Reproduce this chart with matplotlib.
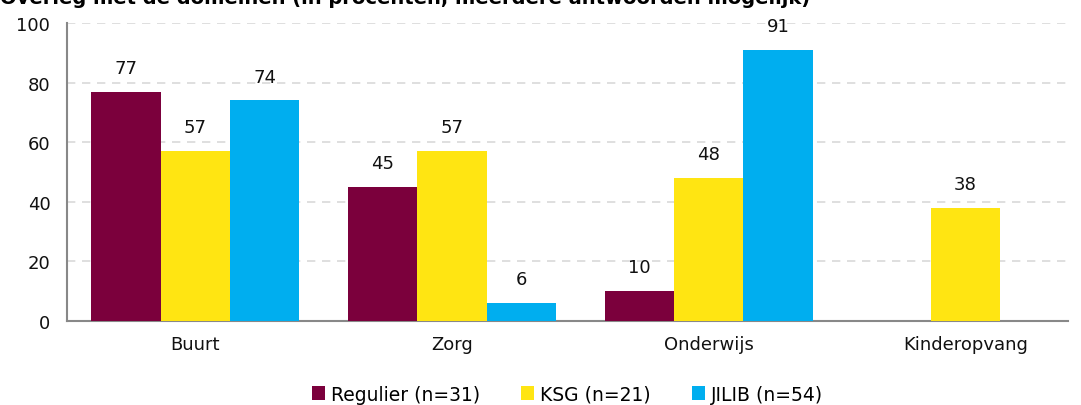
import matplotlib.pyplot as plt
import numpy as np

categories = ["Buurt", "Zorg", "Onderwijs", "Kinderopvang"]
regulier = [77, 45, 10, 0]
ksg = [57, 57, 48, 38]
jilib = [74, 6, 91, 0]
series_names = ["Regulier (n=31)", "KSG (n=21)", "JILIB (n=54)"]
colors = ["#7B003C", "#FFE512", "#00AEEF"]

fig = plt.figure(figsize=(10.81, 4.06), dpi=100)
ax = fig.add_axes([67 / 1081, 84 / 406, 1001 / 1081, 298 / 406])

x = np.arange(len(categories))
w = 0.27
for i, (vals, name, c) in enumerate(zip([regulier, ksg, jilib], series_names, colors)):
    pos = x + (i - 1) * w
    bars = ax.bar(pos, vals, width=w, color=c, label=name, zorder=3)
    for b, v in zip(bars, vals):
        if v > 0:
            ax.text(b.get_x() + b.get_width() / 2, v + 5, str(v),
                    ha="center", va="bottom", fontsize=13, color="#111111")

ax.set_xlim(-0.5, 3.4)
ax.set_ylim(0, 100)
ax.set_yticks(range(0, 101, 20))
ax.set_xticks(x)
ax.set_xticklabels(categories)
ax.tick_params(axis="both", length=0, labelsize=13, colors="#111111")
ax.tick_params(axis="x", pad=10)
ax.tick_params(axis="y", pad=12)

for yv in range(20, 101, 20):
    ax.axhline(yv, color="#d9d9d9", linestyle=(0, (5, 4)), linewidth=1.2, zorder=1)

for s in ["top", "right"]:
    ax.spines[s].set_visible(False)
for s in ["left", "bottom"]:
    ax.spines[s].set_color("#888888")
    ax.spines[s].set_linewidth(1.5)

ax.legend(loc="center", bbox_to_anchor=(0.5, -0.245), ncol=3, frameon=False,
          handlelength=0.7, handleheight=0.7, handletextpad=0.3, columnspacing=2.2,
          fontsize=13.5)

# title sits mostly above the picture, only its lower edge shows
fig.text(0.0, 1.0 - 4 / 406, "Overleg met de domeinen (in procenten, meerdere antwoorden mogelijk)",
         ha="left", va="baseline", fontsize=14, fontweight="bold")

fig.savefig("out.png", dpi=100)
